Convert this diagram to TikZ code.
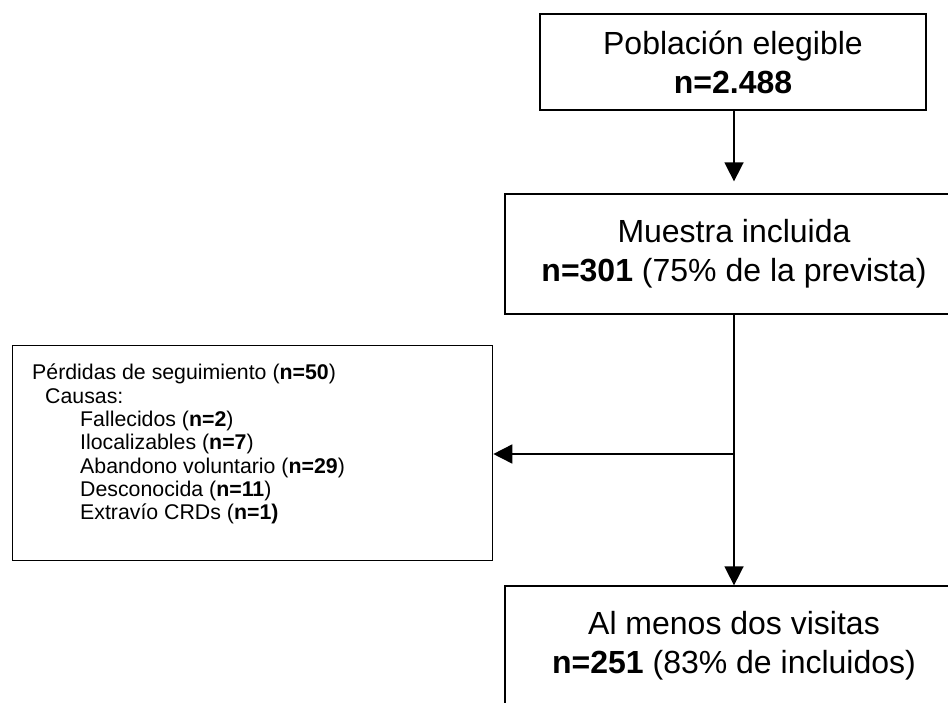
\documentclass[tikz,border=0pt]{standalone}
\usepackage{fontspec}
\setmainfont{Liberation Sans}
\usetikzlibrary{arrows.meta,positioning}
\begin{document}
\begin{tikzpicture}[x=1pt, y=-1pt]
    \tikzset{>={Triangle[length=19pt,width=19pt]}}
    \tikzset{caja/.style={draw, line width=1.3pt, align=center, inner sep=0pt,
        font=\fontsize{32}{39}\selectfont}}
    \tikzset{flecha/.style={->, line width=1.6pt}}
    \useasboundingbox (0,0) rectangle (948,702);
    \clip (0,0) rectangle (948,702);
    \node[caja, minimum width=386pt, minimum height=96pt] (elegible) at (733,62) {Población elegible\\ \textbf{n=2.488}};
    \node[caja, minimum width=458pt, minimum height=120pt] (muestra) at (734,254) {Muestra incluida\\ \textbf{n=301} (75\% de la prevista)};
    \node[caja, minimum width=458pt, minimum height=120pt] (visitas) at (734,646) {Al menos dos visitas\\ \textbf{n=251} (83\% de incluidos)};
    \node[draw, line width=1.3pt, minimum width=480pt, minimum height=215pt, anchor=north west] (perdidas) at (12,345) {};
    \node[anchor=north west, align=left, inner sep=0pt, font=\fontsize{21.3}{23.3}\selectfont] (causas) at (32,364)
        {Pérdidas de seguimiento (\textbf{n=50})\\
        \hspace*{13pt}Causas:\\
        \hspace*{48pt}Fallecidos (\textbf{n=2})\\
        \hspace*{48pt}Ilocalizables (\textbf{n=7})\\
        \hspace*{48pt}Abandono voluntario (\textbf{n=29})\\
        \hspace*{48pt}Desconocida (\textbf{n=11})\\
        \hspace*{48pt}Extravío CRDs (\textbf{n=1)}};
    \coordinate (rama) at (muestra.south |- 0,454);
    \draw[flecha, shorten >=12pt] (elegible.south -| muestra.north) -- (muestra.north);
    \draw[flecha] (muestra.south) -- (visitas.north);
    \draw[flecha] (rama) -- (rama -| perdidas.east);
    \end{tikzpicture}
\end{document}
